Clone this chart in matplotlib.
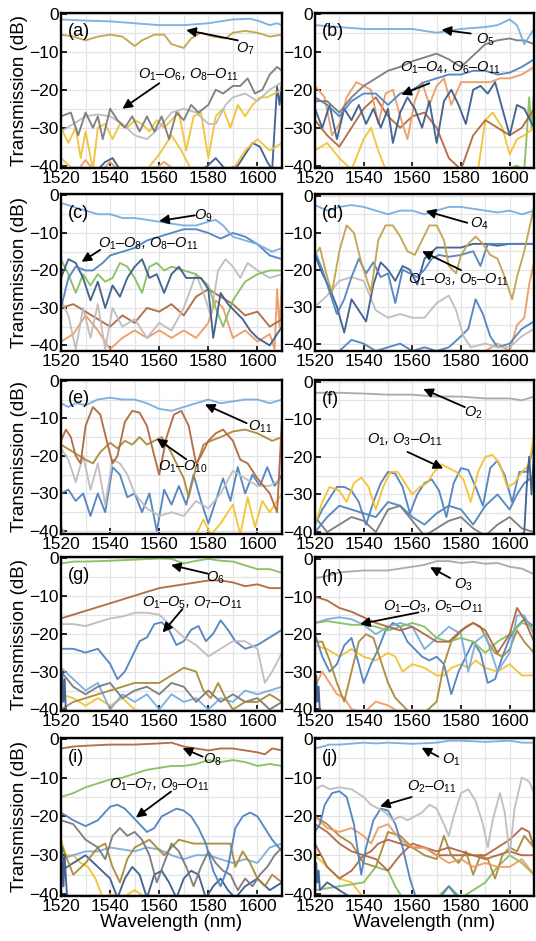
import matplotlib
matplotlib.use("Agg")
import matplotlib.pyplot as plt

plt.rcParams['font.family'] = ['Liberation Sans', 'DejaVu Sans']
plt.rcParams['mathtext.fontset'] = 'custom'
plt.rcParams['mathtext.rm'] = 'Liberation Sans'
plt.rcParams['mathtext.it'] = 'Liberation Sans:italic'

# ---------------- colours ----------------
LB = '#78ade0'; MB = '#4f82c0'; NV = '#3a5d8c'; GD = '#c2a24c'; OL = '#a98a38'
DG = '#7a7a7a'; LG = '#bdbdbd'; YL = '#f3c232'; OR = '#ee9b62'; BR = '#b0673f'; GR = '#86bf5d'

# ---------------- data: (wavelength nm, transmission dB) ----------------
# panel (a)
a_o7 = [(1520,-1.5),(1530,-1.8),(1540,-2),(1550,-2.5),(1560,-3),(1570,-3),(1580,-2.5),(1590,-1.5),(1597,-1.3),(1601,-2),(1605,-3),(1608,-2.5),(1610,-3)]
a_gold = [(1520,-5.5),(1525,-6),(1530,-7),(1535,-6),(1540,-5.5),(1545,-6),(1550,-8.5),(1553,-7),(1558,-5.5),(1562,-5.5),(1565,-8),(1570,-9),(1573,-6.5),(1577,-5),(1582,-6),(1587,-6.5),(1590,-5),(1595,-4.5),(1600,-5),(1605,-6),(1610,-5.5)]
a_dgray = [(1520,-27),(1524,-26),(1527,-32),(1530,-26),(1533,-30),(1535,-27),(1537,-33),(1540,-25),(1543,-28),(1546,-30),(1549,-27),(1552,-31),(1555,-27),(1558,-31),(1561,-27),(1564,-33),(1567,-26),(1570,-28),(1573,-24),(1576,-26),(1580,-24),(1583,-20),(1586,-21),(1590,-19),(1593,-19),(1596,-17),(1599,-21),(1602,-20),(1605,-16),(1608,-14),(1610,-15)]
a_lgray = [(1520,-31),(1525,-29),(1530,-27),(1535,-26.5),(1540,-27),(1545,-29),(1550,-32),(1555,-33),(1560,-30),(1565,-26),(1570,-25),(1575,-26),(1580,-29),(1583,-29),(1587,-24),(1590,-22),(1595,-21),(1600,-23),(1605,-20),(1610,-18)]
a_yel = [(1520,-30),(1523,-34),(1526,-30),(1528,-38),(1530,-31),(1533,-41),(1535,-30),(1538,-29),(1541,-33),(1544,-29),(1547,-30),(1550,-28),(1553,-29),(1556,-31),(1559,-28),(1562,-30),(1565,-28),(1568,-26),(1571,-36),(1574,-27),(1577,-26),(1580,-38),(1583,-27),(1586,-25),(1589,-30),(1592,-24),(1595,-27),(1598,-24),(1601,-22),(1604,-22),(1607,-21),(1610,-20)]
a_yel2 = [(1520,-38),(1525,-41),(1555,-41),(1560,-37),(1565,-32),(1569,-36),(1573,-41),(1590,-41),(1595,-36),(1600,-33),(1605,-36),(1610,-34)]
a_navy = [(1520,-41),(1535,-41),(1538,-39),(1541,-38),(1544,-41),(1578,-41),(1583,-38),(1587,-41),(1592,-40),(1595,-37),(1598,-34),(1601,-35),(1604,-39),(1606,-41),(1607,-30),(1608,-19),(1609,-24),(1610,-18)]
a_orange = [(1520,-41),(1527,-41),(1530,-38.5),(1533,-41),(1537,-41),(1540,-39),(1543,-41),(1558,-41),(1562,-39),(1566,-41),(1610,-41)]

# panel (b)
b_o5 = [(1520,-3),(1530,-3.5),(1540,-4),(1550,-4),(1560,-4),(1565,-4.5),(1570,-5),(1575,-4.5),(1580,-4),(1590,-3.5),(1595,-3),(1600,-1.5),(1603,-3),(1606,-8),(1608,-6),(1610,-4)]
b_gray = [(1520,-23),(1525,-23),(1530,-26),(1535,-22),(1540,-19),(1545,-17),(1550,-15),(1555,-14),(1560,-12.5),(1565,-11.5),(1570,-10.5),(1575,-12),(1580,-14),(1585,-11),(1590,-8),(1595,-7),(1600,-6.5),(1603,-7),(1606,-7),(1610,-8)]
b_blue = [(1520,-22),(1525,-24),(1530,-27),(1535,-23),(1540,-21),(1545,-21),(1550,-24),(1555,-21),(1560,-20),(1565,-18),(1570,-17),(1575,-16),(1580,-16),(1585,-15),(1590,-15),(1595,-16),(1600,-15.5),(1605,-14),(1610,-12)]
b_orange = [(1520,-19),(1524,-22),(1527,-32),(1530,-29),(1533,-22),(1537,-18),(1540,-19),(1543,-20),(1546,-29),(1549,-21),(1552,-20),(1555,-27),(1558,-33),(1561,-23),(1564,-18),(1567,-24),(1570,-19),(1573,-17),(1576,-24),(1580,-18),(1584,-18),(1588,-18),(1592,-18),(1596,-17),(1600,-17),(1605,-16),(1610,-14)]
b_navy = [(1520,-25),(1523,-30),(1526,-24),(1529,-33),(1532,-25),(1535,-28),(1538,-24),(1541,-29),(1544,-25),(1547,-30),(1550,-25),(1552,-34),(1555,-26),(1558,-22),(1561,-25),(1564,-30),(1567,-23),(1570,-34),(1573,-23),(1576,-20),(1579,-24),(1582,-29),(1585,-20),(1588,-19),(1591,-21),(1594,-18),(1597,-25),(1600,-32),(1603,-24),(1606,-25),(1610,-30)]
b_brown = [(1520,-28),(1525,-32),(1530,-35),(1535,-30),(1540,-25),(1545,-22),(1550,-27),(1555,-30),(1560,-27),(1565,-26),(1570,-30),(1575,-38),(1580,-41),(1585,-32),(1590,-28),(1595,-30),(1600,-32),(1605,-30),(1610,-25)]
b_yel = [(1520,-36),(1525,-34),(1530,-38),(1535,-41),(1540,-33),(1543,-30),(1546,-36),(1549,-41),(1587,-41),(1590,-28),(1593,-26),(1597,-30),(1600,-37),(1603,-33),(1606,-32),(1610,-30)]
b_green = [(1598,-41),(1603,-40),(1606,-41),(1607,-32),(1608,-22),(1609,-30),(1610,-20)]

# panel (c)
c_o9 = [(1520,-2),(1525,-3),(1530,-4),(1535,-5),(1540,-5),(1545,-6),(1550,-6),(1555,-6.5),(1560,-7),(1565,-7.5),(1570,-8),(1575,-8),(1580,-7),(1583,-6.5),(1586,-8),(1590,-11),(1595,-12),(1600,-13),(1603,-14),(1606,-15),(1610,-14)]
c_blue = [(1520,-30),(1523,-22),(1526,-19),(1530,-20),(1533,-20),(1537,-18),(1540,-16),(1545,-15),(1550,-14),(1555,-12),(1560,-11),(1565,-10),(1570,-9),(1575,-9),(1580,-10),(1585,-11.5),(1590,-10),(1595,-11),(1600,-13),(1605,-16),(1610,-17)]
c_navy = [(1520,-22),(1523,-17),(1526,-18),(1529,-22),(1532,-28),(1535,-23),(1538,-30),(1541,-24),(1544,-27),(1547,-22),(1550,-19),(1553,-17),(1556,-22),(1559,-21),(1562,-26),(1565,-21),(1568,-19),(1571,-22),(1574,-22),(1577,-22),(1580,-25),(1582,-38),(1585,-26),(1588,-29),(1591,-31),(1594,-33),(1597,-36),(1600,-38),(1605,-40),(1610,-35)]
c_green = [(1520,-17),(1523,-21),(1526,-26),(1529,-21),(1532,-24),(1535,-21),(1538,-23),(1541,-22),(1544,-18),(1547,-19),(1550,-22),(1553,-26),(1556,-19),(1559,-18),(1562,-20),(1565,-19),(1570,-20),(1575,-21),(1580,-24),(1583,-30),(1586,-35),(1590,-28),(1595,-23),(1600,-21),(1605,-20),(1610,-20)]
c_lgray = [(1520,-28),(1523,-32),(1526,-41),(1529,-30),(1532,-38),(1535,-29),(1538,-41),(1541,-30),(1545,-35),(1550,-33),(1555,-38),(1560,-34),(1565,-36),(1570,-30),(1575,-21),(1578,-26),(1581,-32),(1584,-20),(1587,-17),(1590,-19),(1593,-22),(1596,-18),(1600,-20),(1605,-22),(1610,-21)]
c_brown = [(1520,-30),(1525,-29),(1530,-31),(1535,-33),(1540,-35),(1545,-32),(1550,-34),(1555,-30),(1560,-31),(1565,-29),(1570,-32),(1575,-27),(1580,-25),(1585,-27),(1590,-29),(1595,-32),(1600,-31),(1605,-35),(1610,-33)]
c_orange = [(1520,-39),(1525,-37),(1530,-32),(1535,-36),(1540,-41),(1545,-38),(1550,-36),(1555,-38),(1560,-36),(1565,-38),(1570,-36),(1575,-38),(1580,-34),(1583,-28),(1586,-30),(1590,-38),(1595,-36),(1600,-39),(1605,-37),(1607,-41),(1608,-25),(1609,-35),(1610,-22)]

# panel (d)
d_o4 = [(1520,-2.5),(1525,-4),(1530,-3),(1535,-2.5),(1540,-3),(1545,-4),(1550,-5),(1555,-4),(1560,-4),(1565,-5),(1570,-4),(1575,-3),(1580,-3),(1585,-3.5),(1590,-4),(1595,-4.5),(1600,-4),(1605,-5),(1610,-4)]
d_gold = [(1520,-16),(1522,-14),(1525,-22),(1527,-26),(1530,-15),(1533,-8),(1536,-10),(1539,-18),(1541,-22),(1543,-26),(1546,-12),(1549,-8),(1552,-8),(1555,-11),(1558,-15),(1561,-16),(1564,-12),(1567,-8),(1570,-8),(1573,-12),(1575,-19),(1578,-21),(1580,-16),(1583,-13),(1586,-11),(1589,-13),(1592,-16),(1595,-17),(1598,-22),(1601,-28),(1603,-22),(1606,-15),(1610,-3)]
d_blue = [(1520,-15),(1523,-20),(1526,-26),(1529,-32),(1532,-28),(1535,-22),(1538,-17),(1541,-21),(1544,-18),(1547,-22),(1550,-21),(1553,-29),(1556,-20),(1559,-21),(1562,-22),(1565,-20),(1568,-17),(1571,-16),(1575,-16.5),(1580,-16),(1585,-15),(1588,-19),(1591,-13),(1595,-13),(1600,-13),(1605,-13),(1610,-13)]
d_navy = [(1520,-16),(1523,-21),(1526,-25),(1529,-30),(1532,-37),(1535,-28),(1538,-31),(1541,-34),(1544,-24),(1547,-18),(1550,-20),(1553,-23),(1556,-19),(1559,-20),(1562,-24),(1565,-17),(1570,-14),(1575,-14),(1580,-14),(1585,-13),(1590,-13),(1595,-13.5),(1600,-13),(1605,-13),(1610,-13)]
d_lgray = [(1520,-30),(1525,-27),(1530,-23),(1535,-22),(1540,-23),(1545,-31),(1550,-33),(1555,-32),(1560,-33),(1565,-33),(1570,-29),(1575,-27),(1578,-31),(1581,-38),(1584,-41),(1590,-40),(1595,-41),(1600,-41),(1605,-38),(1610,-36)]
d_blue2 = [(1520,-42),(1530,-42),(1535,-39),(1540,-40),(1545,-42),(1550,-41),(1555,-40),(1560,-42),(1565,-41),(1570,-42),(1575,-41),(1580,-38),(1583,-36),(1586,-28),(1589,-32),(1592,-38),(1595,-41),(1600,-40),(1605,-36),(1610,-34)]
d_orange = [(1590,-42),(1595,-40),(1600,-42),(1603,-35),(1606,-33),(1608,-24),(1610,-18)]

# panel (e)
e_o11 = [(1520,-6),(1523,-7),(1526,-6),(1530,-6.5),(1535,-5),(1540,-4.5),(1545,-5),(1550,-5),(1555,-6),(1560,-7.5),(1565,-8),(1570,-7),(1575,-6),(1580,-5),(1585,-6),(1590,-5.5),(1595,-5),(1600,-5),(1605,-6),(1610,-5)]
e_brown = [(1520,-16),(1522,-13),(1524,-15),(1526,-20),(1528,-22),(1530,-12),(1533,-7),(1536,-9),(1539,-17),(1541,-22),(1543,-20),(1546,-11),(1549,-8),(1552,-8.5),(1555,-12),(1558,-20),(1560,-25),(1563,-15),(1566,-9),(1569,-8),(1572,-12),(1575,-22),(1577,-20),(1580,-16),(1583,-14),(1586,-13),(1590,-16),(1593,-21),(1596,-22),(1600,-26),(1605,-30),(1608,-35),(1610,-10)]
e_olive = [(1520,-17),(1525,-19),(1530,-21),(1533,-22),(1536,-19),(1540,-16.5),(1543,-18),(1546,-16),(1549,-17),(1552,-15),(1555,-17),(1558,-16),(1561,-15),(1564,-18),(1567,-22),(1570,-26),(1572,-31),(1575,-23),(1578,-17),(1581,-16),(1585,-15),(1590,-13.5),(1595,-13),(1600,-14),(1603,-15),(1606,-16),(1610,-15)]
e_lgray = [(1520,-18),(1523,-21),(1526,-27),(1529,-20),(1532,-29),(1535,-22),(1538,-33),(1541,-21),(1544,-22),(1547,-25),(1550,-30),(1555,-34),(1560,-36),(1565,-35),(1570,-36),(1575,-32),(1580,-34),(1585,-30),(1590,-24),(1595,-26),(1600,-28),(1605,-28),(1610,-26)]
e_blue = [(1520,-30),(1523,-29),(1526,-32),(1529,-30),(1532,-36),(1535,-30),(1538,-35),(1541,-23),(1544,-25),(1547,-31),(1550,-30),(1553,-35),(1556,-30),(1559,-40),(1562,-29),(1565,-33),(1568,-28),(1571,-33),(1574,-25),(1577,-32),(1580,-38),(1583,-32),(1586,-26),(1589,-32),(1592,-23),(1595,-30),(1598,-25),(1601,-28),(1604,-23),(1607,-28),(1610,-25)]
e_yel = [(1570,-41),(1575,-41),(1578,-37),(1581,-41),(1585,-38),(1590,-33),(1593,-41),(1596,-31),(1599,-39),(1602,-32),(1605,-35),(1610,-30)]
e_green = [(1520,-39),(1522,-41),(1610,-41)]

# panel (f)
f_o2 = [(1520,-3),(1530,-3),(1540,-3.2),(1550,-3.5),(1560,-3.5),(1570,-4),(1580,-4),(1590,-4.5),(1600,-4.5),(1605,-5),(1610,-4)]
f_yel = [(1520,-38),(1523,-32),(1526,-28),(1530,-29),(1533,-32),(1536,-27),(1539,-25.5),(1542,-28),(1545,-34),(1548,-28),(1551,-24),(1554,-24),(1557,-27),(1560,-30),(1563,-28),(1566,-27),(1569,-24),(1572,-22),(1575,-23),(1578,-24),(1581,-26),(1584,-32),(1587,-24),(1590,-20),(1593,-19.5),(1596,-22),(1599,-28),(1602,-27),(1605,-24),(1608,-22),(1610,-14)]
f_blue = [(1520,-38),(1523,-34),(1526,-31),(1529,-28),(1532,-28),(1535,-29),(1538,-32),(1541,-38),(1544,-32),(1547,-27),(1550,-24),(1553,-24.5),(1556,-28),(1559,-35),(1562,-30),(1565,-27),(1568,-26),(1571,-29),(1574,-36),(1577,-27),(1580,-23),(1583,-23.5),(1586,-28),(1589,-33),(1592,-23),(1595,-21),(1598,-25),(1601,-32),(1604,-24),(1607,-24),(1610,-17)]
f_blue2 = [(1520,-40),(1525,-36),(1530,-33),(1535,-34),(1540,-35),(1545,-36),(1550,-32),(1555,-33),(1560,-36),(1565,-38),(1570,-35),(1575,-33),(1580,-34),(1585,-38),(1590,-33),(1595,-30),(1600,-34),(1603,-30),(1606,-27),(1610,-25)]
f_dgray = [(1520,-36),(1525,-40),(1530,-38),(1535,-36),(1540,-37),(1545,-40),(1550,-34),(1555,-33),(1560,-37),(1565,-41),(1570,-39),(1575,-37),(1580,-36),(1585,-39),(1590,-41),(1595,-38),(1600,-36),(1605,-39),(1610,-40)]
f_navy = [(1604,-41),(1606,-40),(1607,-28),(1608,-20),(1609,-30),(1610,-18)]

# panel (g)
g_o6 = [(1520,-1.5),(1525,-1),(1530,-1),(1540,-0.8),(1550,-0.5),(1560,-0.2),(1565,-0.3),(1570,-1.5),(1575,-0.8),(1580,-0.3),(1585,-0.8),(1590,-1),(1595,-2),(1600,-3),(1605,-3),(1610,-4)]
g_brown = [(1520,-16),(1525,-15),(1530,-14),(1535,-13),(1540,-12),(1545,-11),(1550,-10),(1555,-9),(1560,-8),(1565,-7.5),(1570,-7),(1575,-6.5),(1580,-6),(1585,-6),(1590,-6.5),(1595,-7.5),(1600,-7),(1605,-8),(1610,-8)]
g_lgray = [(1520,-17.5),(1525,-17.5),(1530,-18),(1535,-17),(1540,-16),(1545,-15.5),(1550,-14.5),(1555,-14.5),(1560,-15),(1565,-18),(1570,-21),(1575,-23),(1580,-26),(1585,-24),(1590,-22),(1595,-22),(1600,-24),(1603,-33),(1606,-30),(1610,-25)]
g_blue = [(1520,-24),(1525,-24),(1530,-25),(1535,-24),(1540,-28),(1543,-32),(1546,-30),(1549,-26),(1552,-22),(1555,-21),(1558,-17.5),(1561,-17),(1564,-19),(1567,-23),(1570,-22),(1573,-19),(1576,-18),(1579,-22),(1582,-20),(1585,-16.5),(1588,-19),(1591,-22),(1595,-24),(1600,-23),(1605,-21),(1610,-19)]
g_olive = [(1520,-40),(1525,-38),(1530,-37),(1535,-36),(1540,-35),(1545,-34),(1550,-33),(1555,-33),(1560,-33),(1565,-31),(1570,-29),(1575,-30),(1578,-35),(1581,-37),(1584,-33),(1587,-37),(1590,-40),(1595,-38),(1600,-38),(1605,-36),(1610,-38)]
g_dgray = [(1520,-30),(1525,-34),(1530,-36),(1535,-34),(1540,-33),(1545,-37),(1550,-35),(1555,-34),(1560,-36),(1565,-33),(1570,-34),(1575,-38),(1580,-35),(1585,-38),(1590,-36),(1595,-38),(1600,-37),(1605,-40),(1610,-38)]
g_lblue = [(1520,-29),(1525,-32),(1530,-35),(1535,-33),(1540,-40),(1545,-36),(1550,-38),(1555,-36),(1560,-40),(1565,-36),(1570,-38),(1575,-37),(1580,-40),(1585,-37),(1590,-38),(1595,-35),(1600,-36),(1605,-35),(1610,-34)]
g_yel = [(1520,-36),(1525,-37),(1530,-39),(1535,-37),(1540,-39),(1545,-37),(1550,-40),(1555,-41),(1610,-41)]
g_navy = [(1520,-41),(1520.5,-30),(1521,-38),(1521.5,-32),(1522,-41)]

# panel (h)
h_o3 = [(1520,-5),(1525,-4.5),(1530,-3.5),(1540,-3),(1550,-3),(1555,-2.5),(1560,-2),(1565,-1.5),(1570,-0.5),(1575,-0.5),(1580,-1),(1585,-0.7),(1590,-1.2),(1595,-1),(1600,-2),(1605,-2.5),(1610,-4)]
h_brown = [(1520,-10),(1525,-11),(1530,-13),(1535,-14),(1540,-15.5),(1545,-17),(1550,-18),(1555,-19),(1560,-18),(1565,-20),(1570,-22),(1575,-22),(1580,-19),(1585,-17),(1590,-19),(1595,-25),(1600,-20),(1603,-13),(1606,-16),(1610,-22)]
h_green = [(1520,-17),(1525,-16.5),(1530,-17),(1535,-17.5),(1540,-17.5),(1545,-18),(1550,-19),(1555,-18),(1560,-17),(1565,-18),(1570,-21),(1575,-22),(1580,-21),(1585,-22),(1590,-25),(1595,-22),(1600,-20),(1605,-17),(1610,-18)]
h_lblue = [(1520,-17),(1525,-16),(1530,-15.5),(1535,-16),(1540,-17.5),(1545,-20),(1550,-18),(1555,-17),(1560,-18),(1565,-24),(1570,-21),(1575,-18),(1580,-20),(1583,-30),(1586,-22),(1590,-20),(1595,-30),(1600,-25),(1603,-15),(1606,-15),(1610,-20)]
h_olive = [(1520,-22),(1523,-22),(1526,-27),(1529,-33),(1532,-38),(1535,-30),(1538,-22),(1541,-20),(1544,-21),(1547,-27),(1550,-33),(1553,-37),(1556,-39),(1559,-41),(1565,-41),(1570,-38),(1573,-28),(1576,-22),(1579,-20),(1582,-18),(1585,-17),(1588,-18),(1591,-22),(1594,-25),(1597,-26),(1600,-24),(1603,-19),(1606,-22),(1610,-25)]
h_blue = [(1520,-20),(1523,-26),(1526,-30),(1529,-28),(1532,-23),(1535,-21),(1538,-28),(1540,-33),(1543,-28),(1546,-24),(1549,-19),(1552,-17),(1555,-18),(1558,-22),(1561,-24),(1564,-26),(1567,-27),(1570,-26),(1573,-28),(1576,-36),(1579,-30),(1582,-26),(1585,-22),(1588,-25),(1591,-33),(1594,-32),(1597,-26),(1600,-21),(1603,-18),(1606,-16),(1610,-18)]
h_yel = [(1520,-23),(1525,-24),(1530,-26),(1535,-24),(1540,-26),(1545,-27),(1550,-25),(1553,-26),(1556,-30),(1560,-28),(1565,-29),(1570,-31),(1573,-31),(1576,-29),(1580,-28),(1583,-29),(1586,-27),(1590,-29),(1595,-30),(1600,-28),(1605,-31),(1610,-31)]
h_orange = [(1520,-34),(1523,-30),(1526,-33),(1529,-36),(1532,-37),(1535,-40),(1540,-41),(1545,-38),(1550,-39),(1555,-41),(1610,-41)]
h_navy = [(1520,-41),(1520.5,-31),(1521,-38),(1521.5,-34),(1522,-41)]

# panel (i)
i_o8 = [(1520,-2.5),(1525,-2),(1530,-1.8),(1540,-1.5),(1550,-1.5),(1560,-1.2),(1565,-1),(1570,-2),(1575,-2.5),(1580,-3),(1585,-2.5),(1590,-2.5),(1595,-3),(1600,-3.5),(1603,-4),(1606,-2.5),(1610,-3)]
i_green = [(1520,-15),(1525,-14),(1530,-12.5),(1535,-11.5),(1540,-10.5),(1545,-10),(1550,-9),(1555,-8),(1560,-7.5),(1565,-7),(1570,-7),(1575,-6.5),(1580,-5.5),(1585,-6),(1590,-5.5),(1595,-6),(1600,-7),(1605,-6.5),(1610,-7)]
i_blue = [(1520,-19),(1525,-21),(1530,-22.5),(1535,-21),(1540,-17.5),(1543,-17),(1546,-18),(1549,-20),(1552,-22),(1555,-24),(1558,-23),(1561,-20),(1564,-19),(1567,-18),(1570,-18.5),(1573,-20),(1576,-23),(1579,-27),(1582,-34),(1585,-38),(1588,-33),(1591,-23),(1594,-20),(1597,-19),(1600,-20),(1603,-23),(1606,-26),(1610,-29)]
i_gray = [(1520,-21),(1525,-22),(1530,-26),(1535,-28),(1538,-31),(1541,-25),(1544,-23),(1547,-25),(1550,-24),(1553,-26),(1556,-30),(1559,-37),(1562,-32),(1565,-27),(1568,-29),(1571,-33),(1574,-38),(1577,-33),(1580,-29),(1583,-32),(1586,-34),(1589,-35),(1592,-39),(1595,-36),(1598,-38),(1601,-35),(1604,-33),(1607,-30),(1610,-28)]
i_olive = [(1520,-27),(1525,-35),(1530,-32),(1535,-28),(1538,-27),(1541,-33),(1544,-37),(1547,-31),(1550,-28),(1553,-27),(1556,-26),(1559,-28),(1562,-30),(1565,-28),(1568,-26),(1571,-26.5),(1574,-27),(1577,-27),(1580,-27),(1583,-27),(1586,-27),(1589,-27),(1591,-33),(1594,-29),(1597,-32),(1600,-36),(1603,-38),(1606,-35),(1610,-37)]
i_lblue = [(1520,-31),(1525,-30),(1530,-29),(1535,-29),(1540,-28),(1545,-28.5),(1550,-29),(1555,-28),(1560,-28.5),(1565,-30),(1570,-31),(1575,-30),(1580,-30),(1585,-31),(1590,-32),(1595,-31),(1600,-32),(1605,-28),(1610,-27)]
i_navy = [(1520,-34),(1525,-32),(1530,-30),(1535,-33),(1540,-36),(1543,-41),(1546,-36),(1549,-33),(1552,-35),(1555,-41),(1558,-35),(1561,-34),(1564,-37),(1567,-41),(1570,-36),(1573,-34),(1576,-35),(1579,-41),(1582,-38),(1585,-36),(1588,-39),(1591,-41),(1595,-38),(1600,-36),(1605,-39),(1610,-37)]
i_yel = [(1520,-26),(1522,-30),(1525,-30),(1528,-32),(1531,-33),(1534,-36),(1537,-41),(1540,-40),(1545,-41),(1550,-39),(1555,-41),(1610,-41)]
i_burst = [(1520,-41),(1520.5,-28),(1521,-38),(1521.5,-30),(1522,-36),(1522.5,-41)]

# panel (j)
j_o1 = [(1520,-2.5),(1523,-2),(1526,-1.5),(1530,-1.5),(1540,-1),(1545,-1.2),(1550,-1),(1560,-1.3),(1570,-1),(1575,-0.5),(1580,-0.5),(1590,-0.8),(1600,-0.5),(1605,-1),(1610,-1)]
j_lgray = [(1520,-13),(1523,-12),(1526,-13),(1530,-12.5),(1535,-13),(1540,-15),(1543,-17),(1546,-18),(1549,-19),(1552,-21),(1555,-20),(1558,-21),(1561,-20),(1564,-19),(1567,-17),(1570,-18),(1573,-22),(1575,-25),(1577,-20),(1580,-14),(1583,-13),(1586,-16),(1589,-22),(1591,-28),(1593,-21),(1596,-14),(1598,-19),(1600,-30),(1602,-18),(1605,-10),(1608,-11),(1610,-14)]
j_blue = [(1520,-24),(1522,-22),(1524,-17),(1527,-14),(1530,-13.5),(1533,-15),(1536,-22),(1539,-35),(1541,-28),(1544,-21),(1547,-18),(1550,-18.5),(1553,-22),(1556,-28),(1559,-36),(1562,-42),(1570,-42),(1575,-38),(1580,-42),(1610,-42)]
j_orange = [(1520,-20),(1525,-23),(1530,-24),(1535,-23),(1540,-25),(1543,-27),(1546,-23),(1550,-22),(1555,-26),(1560,-28),(1565,-28),(1570,-30),(1575,-32),(1580,-31),(1585,-33),(1590,-32),(1595,-33),(1600,-33),(1605,-31),(1610,-35)]
j_brown = [(1520,-22),(1525,-24),(1530,-27),(1535,-29),(1540,-30),(1543,-29),(1546,-27),(1550,-26),(1555,-27),(1560,-28),(1565,-28),(1570,-29),(1575,-28),(1580,-29),(1585,-30),(1590,-30),(1595,-28),(1600,-26),(1605,-23),(1608,-24),(1610,-28)]
j_olive = [(1520,-20),(1525,-22),(1530,-25),(1535,-27),(1540,-32),(1545,-33),(1550,-24),(1555,-25),(1560,-28),(1565,-30),(1570,-31),(1573,-25),(1576,-30),(1579,-32),(1582,-29),(1585,-35),(1588,-30),(1591,-31),(1594,-36),(1597,-30),(1600,-28),(1603,-29),(1606,-25),(1610,-28)]
j_brown2 = [(1520,-27),(1525,-33),(1530,-36),(1535,-34),(1540,-30),(1545,-31),(1550,-34),(1555,-30),(1560,-27),(1565,-28),(1570,-30),(1575,-30),(1580,-30),(1585,-30),(1590,-31),(1595,-30),(1600,-29),(1605,-30),(1610,-30)]
j_green = [(1520,-39),(1530,-38),(1540,-37),(1545,-33),(1550,-34),(1553,-38),(1556,-41),(1570,-41),(1575,-38),(1580,-41),(1590,-37),(1595,-33),(1600,-30),(1605,-32),(1610,-35)]
j_yel = [(1520,-30),(1525,-33),(1530,-36),(1535,-37),(1540,-41),(1610,-41)]
j_navy = [(1520,-41),(1520.5,-32),(1521,-37),(1521.5,-34),(1522,-39),(1525,-37),(1530,-39),(1535,-41),(1610,-41)]

# panel layout / annotations
panel_letters = ['a','b','c','d','e','f','g','h','i','j']
series_by_panel = {
    'a': [(a_orange,OR),(a_navy,NV),(a_yel2,YL),(a_yel,YL),(a_lgray,LG),(a_dgray,DG),(a_gold,GD),(a_o7,LB)],
    'b': [(b_green,GR),(b_yel,YL),(b_brown,BR),(b_orange,OR),(b_navy,NV),(b_blue,MB),(b_gray,DG),(b_o5,LB)],
    'c': [(c_orange,OR),(c_brown,BR),(c_lgray,LG),(c_green,GR),(c_navy,NV),(c_blue,MB),(c_o9,LB)],
    'd': [(d_orange,OR),(d_blue2,MB),(d_lgray,LG),(d_navy,NV),(d_blue,MB),(d_gold,GD),(d_o4,LB)],
    'e': [(e_green,GR),(e_yel,YL),(e_blue,MB),(e_lgray,LG),(e_olive,OL),(e_brown,BR),(e_o11,LB)],
    'f': [(f_dgray,DG),(f_blue2,MB),(f_blue,MB),(f_yel,YL),(f_navy,NV),(f_o2,'#a8a8a8')],
    'g': [(g_yel,YL),(g_lblue,LB),(g_dgray,DG),(g_olive,OL),(g_blue,MB),(g_lgray,LG),(g_brown,BR),(g_o6,GR),(g_navy,NV)],
    'h': [(h_orange,OR),(h_yel,YL),(h_blue,MB),(h_olive,OL),(h_lblue,LB),(h_green,GR),(h_brown,BR),(h_o3,'#a8a8a8'),(h_navy,NV)],
    'i': [(i_yel,YL),(i_navy,NV),(i_lblue,LB),(i_olive,OL),(i_gray,DG),(i_blue,MB),(i_green,GR),(i_o8,BR),(i_burst,NV)],
    'j': [(j_yel,YL),(j_green,GR),(j_brown2,BR),(j_olive,OL),(j_brown,BR),(j_orange,OR),(j_blue,MB),(j_lgray,LG),(j_o1,LB),(j_navy,NV)],
}
# (label, text pos, arrow tail, arrow head) for the two callouts of each panel
callouts = {
    'a': [(r'$O_7$', (1595,-9.3), (1592,-7), (1571,-4.3)),
          (r'$O_1$–$O_6$, $O_8$–$O_{11}$', (1572,-16), (1560,-18.3), (1545,-25))],
    'b': [(r'$O_5$', (1590,-6.8), (1584,-5.2), (1572,-4.2)),
          (r'$O_1$–$O_4$, $O_6$–$O_{11}$', (1575.5,-14.3), (1567,-18.3), (1555.5,-21.3))],
    'c': [(r'$O_9$', (1578,-5.5), (1574.5,-5.3), (1560,-6.8)),
          (r'$O_1$–$O_8$, $O_8$–$O_{11}$', (1555.5,-13), (1536,-14.5), (1528.4,-17.7))],
    'd': [(r'$O_4$', (1587.5,-7.7), (1582.6,-7.3), (1565.5,-4.1)),
          (r'$O_1$–$O_3$, $O_5$–$O_{11}$', (1579,-22.7), (1580,-20.1), (1564,-15))],
    'e': [(r'$O_{11}$', (1601,-12.2), (1595.6,-11.3), (1578.6,-6.3)),
          (r'$O_1$–$O_{10}$', (1569.8,-23), (1571,-20.9), (1559,-15.4))],
    'f': [(r'$O_2$', (1585,-8.4), (1581.6,-6.8), (1564.5,-2)),
          (r'$O_1$, $O_3$–$O_{11}$', (1557,-15.6), (1558,-18.7), (1572.7,-23.1))],
    'g': [(r'$O_6$', (1583,-5.2), (1579.8,-4.2), (1564.8,-1.9)),
          (r'$O_1$–$O_5$, $O_7$–$O_{11}$', (1573.6,-12), (1569.5,-13.5), (1561.4,-19.7))],
    'h': [(r'$O_3$', (1581,-6.8), (1575.5,-5), (1567.3,-2.1)),
          (r'$O_1$–$O_3$, $O_5$–$O_{11}$', (1568.6,-12.7), (1562.5,-14.2), (1538.5,-17.3))],
    'i': [(r'$O_8$', (1581.8,-5.4), (1577.7,-4.6), (1569.5,-2.4)),
          (r'$O_1$–$O_7$, $O_9$–$O_{11}$', (1560,-11.9), (1564.8,-13.6), (1550.5,-20.3))],
    'j': [(r'$O_1$', (1576,-5.5), (1570.7,-4.6), (1563.8,-2.3)),
          (r'$O_2$–$O_{11}$', (1568,-12.4), (1559.7,-15), (1546.7,-17.4))],
}
ylims = {'a':(-40.6,0.2),'b':(-40.6,0.2),'c':(-41.5,0.4),'d':(-42,0.5),'e':(-40.8,0.2),
         'f':(-40.5,0.4),'g':(-40.4,0.2),'h':(-40.5,0.6),'i':(-40.5,0.2),'j':(-40.5,0.2)}

x_ticks = [1520, 1540, 1560, 1580, 1600]
y_ticks = [0, -10, -20, -30, -40]

# ---------------- figure ----------------
fig = plt.figure(figsize=(5.36, 9.41), dpi=100)
col_left = [61/536, 315/536]
col_w = [221/536, 219/536]
rows_px = [(13,168),(194,351),(380,534),(557,711),(738,896)]

for k, letter in enumerate(panel_letters):
    r, c = divmod(k, 2)
    top, bot = rows_px[r]
    ax = fig.add_axes([col_left[c], 1-bot/941, col_w[c], (bot-top)/941])
    ax.set_xlim(1520, 1610)
    ax.set_ylim(*ylims[letter])
    ax.set_xticks(x_ticks)
    ax.set_yticks(y_ticks)
    ax.set_xticks(range(1530, 1611, 10), minor=True)
    ax.set_yticks(range(-35, 1, 10), minor=True)
    ax.grid(True, which='both', color='#e4e4e4', lw=0.9)
    ax.set_axisbelow(True)
    ax.tick_params(which='major', direction='in', length=4, width=1.2, labelsize=12.5)
    ax.tick_params(axis='x', which='major', pad=2.5)
    ax.tick_params(axis='y', which='major', pad=1.5)
    ax.tick_params(which='minor', length=0)
    for s in ax.spines.values():
        s.set_linewidth(1.7)
    for series, col in series_by_panel[letter]:
        xs = [p[0] for p in series]
        ys = [p[1] for p in series]
        ax.plot(xs, ys, color=col, lw=1.35, alpha=0.95, solid_joinstyle='round')
    ax.text(1523, -4.8, f'({letter})', fontsize=13, ha='left', va='center')
    for label, tpos, tail, head in callouts[letter]:
        ax.annotate('', xy=head, xytext=tail,
                    arrowprops=dict(arrowstyle='-|>', color='black', lw=1.3,
                                    mutation_scale=14, shrinkA=0, shrinkB=0))
        ax.text(tpos[0], tpos[1], label, fontsize=10.5, ha='center', va='center', style='italic')
    if c == 0:
        ax.set_ylabel('Transmission (dB)', fontsize=13.5, labelpad=1)
    if r == 4:
        ax.set_xlabel('Wavelength (nm)', fontsize=13.5, labelpad=0)

fig.savefig('out.png', dpi=100)
